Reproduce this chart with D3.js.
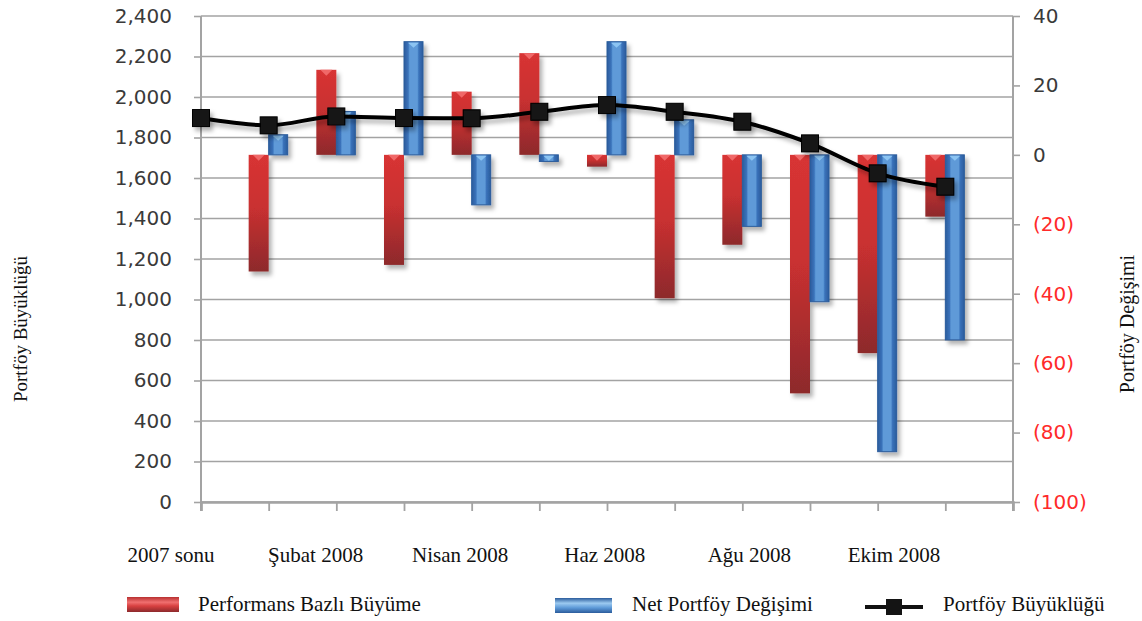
<!DOCTYPE html>
<html>
<head>
<meta charset="utf-8">
<script src="https://d3js.org/d3.v7.min.js"></script>
<style>
  body { margin: 0; background: #fff; }
  svg { display: block; }
</style>
</head>
<body>
<svg id="drawing_region"></svg>
<script>
const categories = ["2007 sonu", "Ocak 2008", "Şubat 2008", "Mart 2008", "Nisan 2008", "Mayıs 2008",
                    "Haz 2008", "Tem 2008", "Ağu 2008", "Eylül 2008", "Ekim 2008", "Kasım 2008"];
const xLabels = ["2007 sonu", "Şubat 2008", "Nisan 2008", "Haz 2008", "Ağu 2008", "Ekim 2008"];
const performans = [null, -33.6, 24.5, -31.7, 18.2, 29.3, -3.4, -41.3, -25.9, -68.7, -57.1, -17.8];
const netDegisim = [null, 5.8, 12.5, 32.6, -14.4, -1.9, 32.6, 10.1, -20.6, -42.3, -85.5, -53.3];
const buyukluk = [1896, 1860, 1904, 1896, 1895, 1927, 1960, 1927, 1878, 1771, 1623, 1557];
const leftTicks = d3.range(0, 2401, 200);
const rightTicks = d3.range(-100, 41, 20);
const legendNames = ["Performans Bazlı Büyüme", "Net Portföy Değişimi", "Portföy Büyüklüğü"];

const config = {
    parent: '#drawing_region',
    width: 1142,
    height: 621,
    margin: {top: 16, right: 129, bottom: 119, left: 201}
};

class ComboChart {
    constructor(config) {
        this.config = config;
        this.init();
    }

    init() {
        let self = this;
        const c = self.config;
        self.svg = d3.select(c.parent)
            .attr('width', c.width)
            .attr('height', c.height);

        self.inner_width = c.width - c.margin.left - c.margin.right;
        self.inner_height = c.height - c.margin.top - c.margin.bottom;

        self.chart = self.svg.append('g')
            .attr('transform', `translate(${c.margin.left}, ${c.margin.top})`);

        // category index -> x, one extra step on the right
        self.xscale = d3.scaleLinear()
            .domain([0, categories.length])
            .range([0, self.inner_width]);
        self.yleft = d3.scaleLinear()
            .domain([0, 2400])
            .range([self.inner_height, 0]);
        self.yright = d3.scaleLinear()
            .domain([-100, 40])
            .range([self.inner_height, 0]);

        const defs = self.svg.append('defs');
        const shadow = defs.append('filter').attr('id', 'shadow')
            .attr('x', '-50%').attr('y', '-50%').attr('width', '200%').attr('height', '200%');
        shadow.append('feDropShadow')
            .attr('dx', 3).attr('dy', 4).attr('stdDeviation', 2)
            .attr('flood-color', '#000').attr('flood-opacity', 0.3);

        const red = defs.append('linearGradient').attr('id', 'redgrad')
            .attr('x1', 0).attr('y1', 0).attr('x2', 0).attr('y2', 1);
        red.append('stop').attr('offset', '0%').attr('stop-color', '#d83434');
        red.append('stop').attr('offset', '45%').attr('stop-color', '#c93030');
        red.append('stop').attr('offset', '100%').attr('stop-color', '#8d2a2c');

        const blue = defs.append('linearGradient').attr('id', 'bluegrad')
            .attr('x1', 0).attr('y1', 0).attr('x2', 1).attr('y2', 0);
        blue.append('stop').attr('offset', '0%').attr('stop-color', '#2b5c9c');
        blue.append('stop').attr('offset', '22%').attr('stop-color', '#3a72ba');
        blue.append('stop').attr('offset', '30%').attr('stop-color', '#5e9ad8');
        blue.append('stop').attr('offset', '70%').attr('stop-color', '#5e9ad8');
        blue.append('stop').attr('offset', '78%').attr('stop-color', '#3a72ba');
        blue.append('stop').attr('offset', '100%').attr('stop-color', '#2b5c9c');

        const redLeg = defs.append('linearGradient').attr('id', 'redleg')
            .attr('x1', 0).attr('y1', 0).attr('x2', 0).attr('y2', 1);
        redLeg.append('stop').attr('offset', '0%').attr('stop-color', '#b83030');
        redLeg.append('stop').attr('offset', '35%').attr('stop-color', '#f07070');
        redLeg.append('stop').attr('offset', '60%').attr('stop-color', '#d84040');
        redLeg.append('stop').attr('offset', '100%').attr('stop-color', '#8d2a2c');

        const blueLeg = defs.append('linearGradient').attr('id', 'blueleg')
            .attr('x1', 0).attr('y1', 0).attr('x2', 0).attr('y2', 1);
        blueLeg.append('stop').attr('offset', '0%').attr('stop-color', '#2b5c9c');
        blueLeg.append('stop').attr('offset', '35%').attr('stop-color', '#9ccaf0');
        blueLeg.append('stop').attr('offset', '65%').attr('stop-color', '#5e9ad8');
        blueLeg.append('stop').attr('offset', '100%').attr('stop-color', '#2b5c9c');
    }

    render() {
        let self = this;
        const H = self.inner_height, W = self.inner_width;
        const tickFont = '"DejaVu Sans", Verdana, sans-serif';
        const serif = '"Liberation Serif", "Times New Roman", serif';

        // gridlines
        self.chart.append('g')
            .selectAll('line')
            .data(leftTicks)
            .join('line')
            .attr('x1', 0).attr('x2', W)
            .attr('y1', d => self.yleft(d)).attr('y2', d => self.yleft(d))
            .attr('stroke', '#a3a3a3')
            .attr('stroke-width', 1.6);

        // left axis
        const left = self.chart.append('g')
            .call(d3.axisLeft(self.yleft).tickValues(leftTicks).tickFormat(d3.format(',')).tickSize(7).tickPadding(22));
        left.select('.domain').remove();
        left.selectAll('.tick line').attr('stroke', '#a3a3a3').attr('stroke-width', 1.6);
        left.selectAll('text').attr('font-family', tickFont).attr('font-size', 20).attr('fill', '#3a3a3a');
        self.chart.append('line')
            .attr('x1', 0).attr('x2', 0).attr('y1', 0).attr('y2', H + 9)
            .attr('stroke', '#a3a3a3').attr('stroke-width', 2);

        // right axis
        const right = self.chart.append('g')
            .attr('transform', `translate(${W}, 0)`)
            .call(d3.axisRight(self.yright).tickValues(rightTicks)
                .tickFormat(d => d < 0 ? `(${-d})` : d).tickSize(7).tickPadding(13));
        right.select('.domain').remove();
        right.selectAll('.tick line').attr('stroke', '#a3a3a3').attr('stroke-width', 1.6);
        right.selectAll('text').attr('font-family', tickFont).attr('font-size', 20)
            .attr('fill', d => d < 0 ? '#ff2a2a' : '#3a3a3a');
        self.chart.append('line')
            .attr('x1', W).attr('x2', W).attr('y1', 0).attr('y2', H + 9)
            .attr('stroke', '#a3a3a3').attr('stroke-width', 2);

        // bottom axis
        const bottom = self.chart.append('g')
            .attr('transform', `translate(0, ${H})`)
            .call(d3.axisBottom(self.xscale).tickValues(d3.range(0, categories.length + 1))
                .tickFormat('').tickSize(9));
        bottom.select('.domain').attr('stroke', '#a3a3a3').attr('stroke-width', 2.5);
        bottom.selectAll('.tick line').attr('stroke', '#a3a3a3').attr('stroke-width', 1.8);

        // category labels
        const labelScale = d3.scalePoint()
            .domain(xLabels)
            .range([171 - config.margin.left, 894 - config.margin.left]);
        self.chart.append('g')
            .selectAll('text')
            .data(xLabels)
            .join('text')
            .attr('x', d => labelScale(d))
            .attr('y', H + 60)
            .attr('text-anchor', 'middle')
            .attr('font-family', serif)
            .attr('font-size', 21)
            .attr('fill', '#111')
            .text(d => d);

        // bars
        const barW = 20;
        const rows = categories.map((c, i) => ({i: i, p: performans[i], n: netDegisim[i]}))
            .filter(d => d.p !== null);
        const bars = self.chart.append('g').attr('filter', 'url(#shadow)');
        const y0 = self.yright(0);

        const redG = bars.selectAll('g.red').data(rows).join('g').attr('class', 'red');
        redG.append('rect')
            .attr('x', d => self.xscale(d.i) - barW)
            .attr('y', d => Math.min(y0, self.yright(d.p)))
            .attr('width', barW)
            .attr('height', d => Math.abs(self.yright(d.p) - y0))
            .attr('fill', 'url(#redgrad)');
        redG.append('path')
            .attr('d', d => {
                const x = self.xscale(d.i) - barW, y = Math.min(y0, self.yright(d.p));
                return `M${x + 4},${y} L${x + barW - 4},${y} L${x + barW / 2},${y + 6} Z`;
            })
            .attr('fill', '#f06868');

        const blueG = bars.selectAll('g.blue').data(rows).join('g').attr('class', 'blue');
        blueG.append('rect')
            .attr('x', d => self.xscale(d.i))
            .attr('y', d => Math.min(y0, self.yright(d.n)))
            .attr('width', barW - 1)
            .attr('height', d => Math.abs(self.yright(d.n) - y0))
            .attr('fill', 'url(#bluegrad)')
            .attr('stroke', '#2b5c9c')
            .attr('stroke-width', 1);
        blueG.append('path')
            .attr('d', d => {
                const x = self.xscale(d.i), y = Math.min(y0, self.yright(d.n));
                return `M${x + 4},${y + 1} L${x + barW - 5},${y + 1} L${x + (barW - 1) / 2},${y + 6} Z`;
            })
            .attr('fill', '#8cc4f2');

        // line
        const line = d3.line()
            .x((d, i) => self.xscale(i))
            .y(d => self.yleft(d))
            .curve(d3.curveMonotoneX);
        self.chart.append('path')
            .datum(buyukluk)
            .attr('d', line)
            .attr('fill', 'none')
            .attr('stroke', '#000')
            .attr('stroke-width', 4)
            .attr('filter', 'url(#shadow)');
        const ms = 17;
        self.chart.append('g')
            .attr('filter', 'url(#shadow)')
            .selectAll('rect')
            .data(buyukluk)
            .join('rect')
            .attr('x', (d, i) => self.xscale(i) - ms / 2)
            .attr('y', d => self.yleft(d) - ms / 2)
            .attr('width', ms).attr('height', ms)
            .attr('fill', '#141414')
            .attr('stroke', '#000')
            .attr('stroke-width', 1);

        // axis titles
        self.svg.append('text')
            .attr('transform', 'translate(27, 329) rotate(-90)')
            .attr('text-anchor', 'middle')
            .attr('font-family', serif).attr('font-size', 19).attr('fill', '#111')
            .text('Portföy Büyüklüğü');
        self.svg.append('text')
            .attr('transform', 'translate(1134, 324) rotate(-90)')
            .attr('text-anchor', 'middle')
            .attr('font-family', serif).attr('font-size', 20).attr('fill', '#111')
            .text('Portföy Değişimi');

        // legend
        const legend = self.svg.append('g');
        const legendX = [127, 555, 865];
        const textX = [198, 632, 943];
        legend.append('rect').attr('x', legendX[0]).attr('y', 597).attr('width', 52).attr('height', 15)
            .attr('fill', 'url(#redleg)');
        legend.append('rect').attr('x', legendX[1]).attr('y', 598).attr('width', 57).attr('height', 15)
            .attr('fill', 'url(#blueleg)');
        legend.append('line').attr('x1', legendX[2]).attr('x2', legendX[2] + 58)
            .attr('y1', 607).attr('y2', 607).attr('stroke', '#111').attr('stroke-width', 4);
        legend.append('rect').attr('x', legendX[2] + 21).attr('y', 599).attr('width', 16).attr('height', 16)
            .attr('fill', '#141414');
        legend.selectAll('text.leg')
            .data(legendNames)
            .join('text')
            .attr('class', 'leg')
            .attr('x', (d, i) => textX[i])
            .attr('y', 611)
            .attr('font-family', serif)
            .attr('font-size', 21)
            .attr('fill', '#111')
            .text(d => d);
    }
}

const combo = new ComboChart(config);
combo.render();
</script>
</body>
</html>
